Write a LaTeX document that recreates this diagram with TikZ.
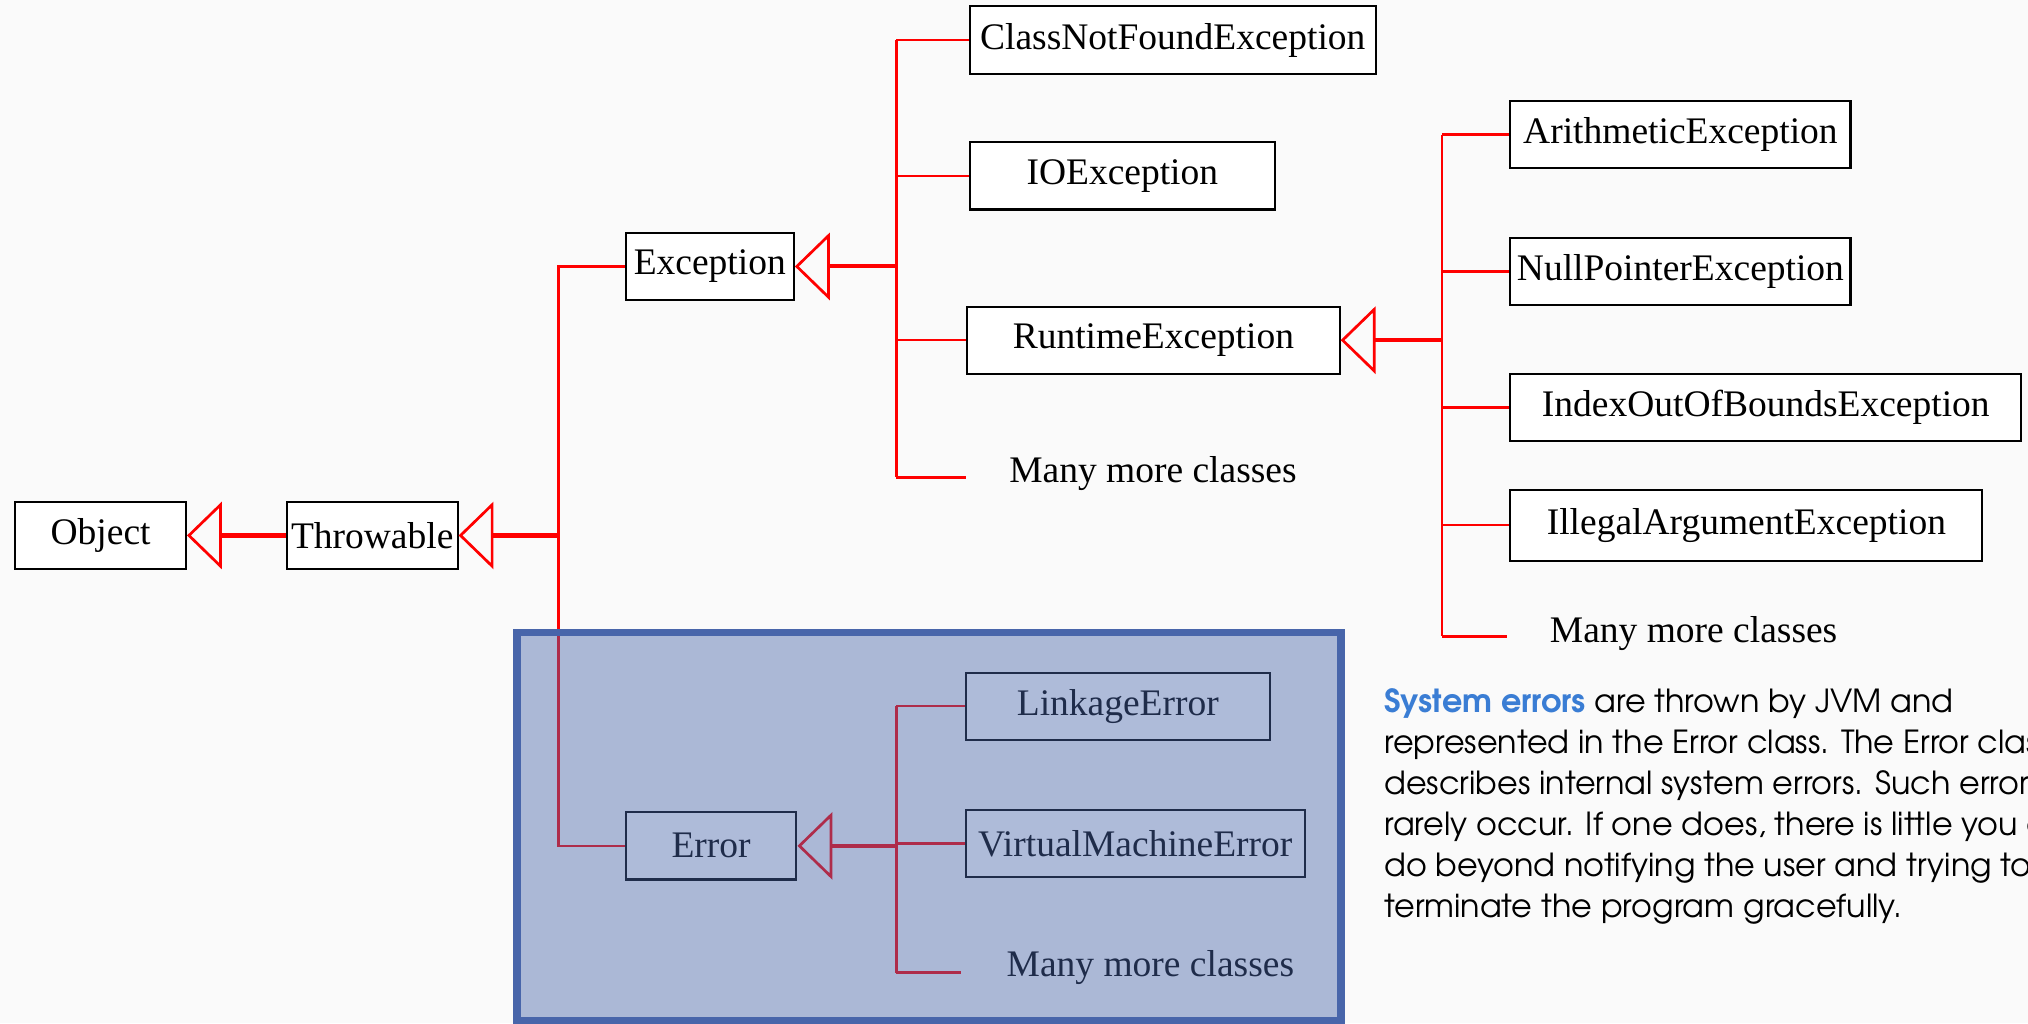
\documentclass[tikz,border=0pt]{standalone}
\usepackage{fontspec}
\setmainfont{Liberation Serif}
\newfontfamily\notefont{texgyreadventor-regular.otf}[BoldFont=texgyreadventor-bold.otf]
\usetikzlibrary{arrows.meta}
\definecolor{linkred}{RGB}{255,0,0}
\definecolor{panelblue}{RGB}{72,101,170}
\definecolor{noteblue}{RGB}{58,125,212}
\definecolor{pagebg}{RGB}{250,250,250}
\tikzset{
  cls/.style={draw=black, fill=white, line width=0.9pt, minimum height=1.04cm,
    inner sep=0pt, anchor=west, font=\fontsize{16.5}{19}\selectfont},
  morecls/.style={anchor=west, inner sep=0pt, font=\fontsize{16.5}{19}\selectfont},
  link/.style={draw=linkred, line width=1.1pt},
  inherit/.style={draw=linkred, line width=1.8pt,
    -{Triangle[open, length=0.54cm, width=1.04cm, line width=1.2pt]}},
}
\begin{document}
\begin{tikzpicture}[x=0.02cm, y=-0.02cm]
      \fill[pagebg] (0,0) rectangle (1568,791);
      \useasboundingbox (0,0) rectangle (1568,791);
      \node[cls, minimum width=2.64cm] (object) at (11,414) {Object};
      \node[cls, minimum width=2.64cm] (throwable) at (221,414) {Throwable};
      \node[cls, minimum width=2.6cm] (exception) at (483,206) {Exception};
      \node[cls, minimum width=6.28cm] (cnfe) at (749,31) {ClassNotFoundException};
      \node[cls, minimum width=4.72cm] (ioe) at (749,136) {IOException};
      \node[cls, minimum width=5.76cm] (rte) at (747,263) {RuntimeException};
      \node[morecls] (more1) at (780,366) {Many more classes};
      \node[cls, minimum width=5.26cm] (ae) at (1167,104) {ArithmeticException};
      \node[cls, minimum width=5.26cm] (npe) at (1167,210) {NullPointerException};
      \node[cls, minimum width=7.9cm] (ioobe) at (1167,315) {IndexOutOfBoundsException};
      \node[cls, minimum width=7.3cm, minimum height=1.1cm] (iae) at (1167,406) {IllegalArgumentException};
      \node[morecls] (more2) at (1198,490) {Many more classes};
      \node[cls, minimum width=2.64cm] (error) at (483,654) {Error};
      \node[cls, minimum width=4.7cm] (le) at (746,546) {LinkageError};
      \node[cls, minimum width=5.24cm] (vme) at (746,652) {VirtualMachineError};
      \node[morecls] (more3) at (778,748) {Many more classes};
      \coordinate (tt) at (432,414);
      \coordinate (te) at (693,206);
      \coordinate (tr) at (1115,263);
      \coordinate (tv) at (693,654);
      \coordinate (m1) at (747,369);
      \coordinate (m2) at (1165,492);
      \coordinate (m3) at (743,752);
      \begin{scope}
        \draw[inherit] (throwable) -- (object);
        \draw[inherit] (tt) -- (throwable);
        \draw[link] (exception.west) -| (tt) |- (error.west);
        \draw[inherit] (te) -- (exception);
        \draw[link] (te |- cnfe.west) -- (te |- m1);
        \draw[link] (te |- cnfe.west) -- (cnfe.west);
        \draw[link] (te |- ioe.west) -- (ioe.west);
        \draw[link] (te |- rte.west) -- (rte.west);
        \draw[link] (te |- m1) -- (m1);
        \draw[inherit] (tr) -- (rte);
        \draw[link] (tr |- ae.west) -- (tr |- m2);
        \draw[link] (tr |- ae.west) -- (ae.west);
        \draw[link] (tr |- npe.west) -- (npe.west);
        \draw[link] (tr |- ioobe.west) -- (ioobe.west);
        \draw[link] (tr |- iae.west) -- (iae.west);
        \draw[link] (tr |- m2) -- (m2);
        \draw[inherit] (tv) -- (error);
        \draw[link] (tv |- le.west) -- (tv |- m3);
        \draw[link] (tv |- le.west) -- (le.west);
        \draw[link] (tv |- vme.west) -- (vme.west);
        \draw[link] (tv |- m3) -- (m3);
      \end{scope}
      \fill[panelblue, fill opacity=0.44] (400,489) rectangle (1037,789);
      \draw[panelblue, line width=3.4pt] (400,489) rectangle (1037,789);
      \begin{scope}
        \clip (0,0) rectangle (1568,791);
        \node[anchor=base west, align=left, inner sep=0pt,
          font=\notefont\fontsize{14}{18.04}\selectfont] (note) at (1070,709)
          {\textcolor{noteblue}{\textbf{System errors}} are thrown by JVM and\\
           represented in the Error class. The Error class\\
           describes internal system errors. Such errors\\
           rarely occur. If one does, there is little you can\\
           do beyond notifying the user and trying to\\
           terminate the program gracefully.};
      \end{scope}
    \end{tikzpicture}
\end{document}
